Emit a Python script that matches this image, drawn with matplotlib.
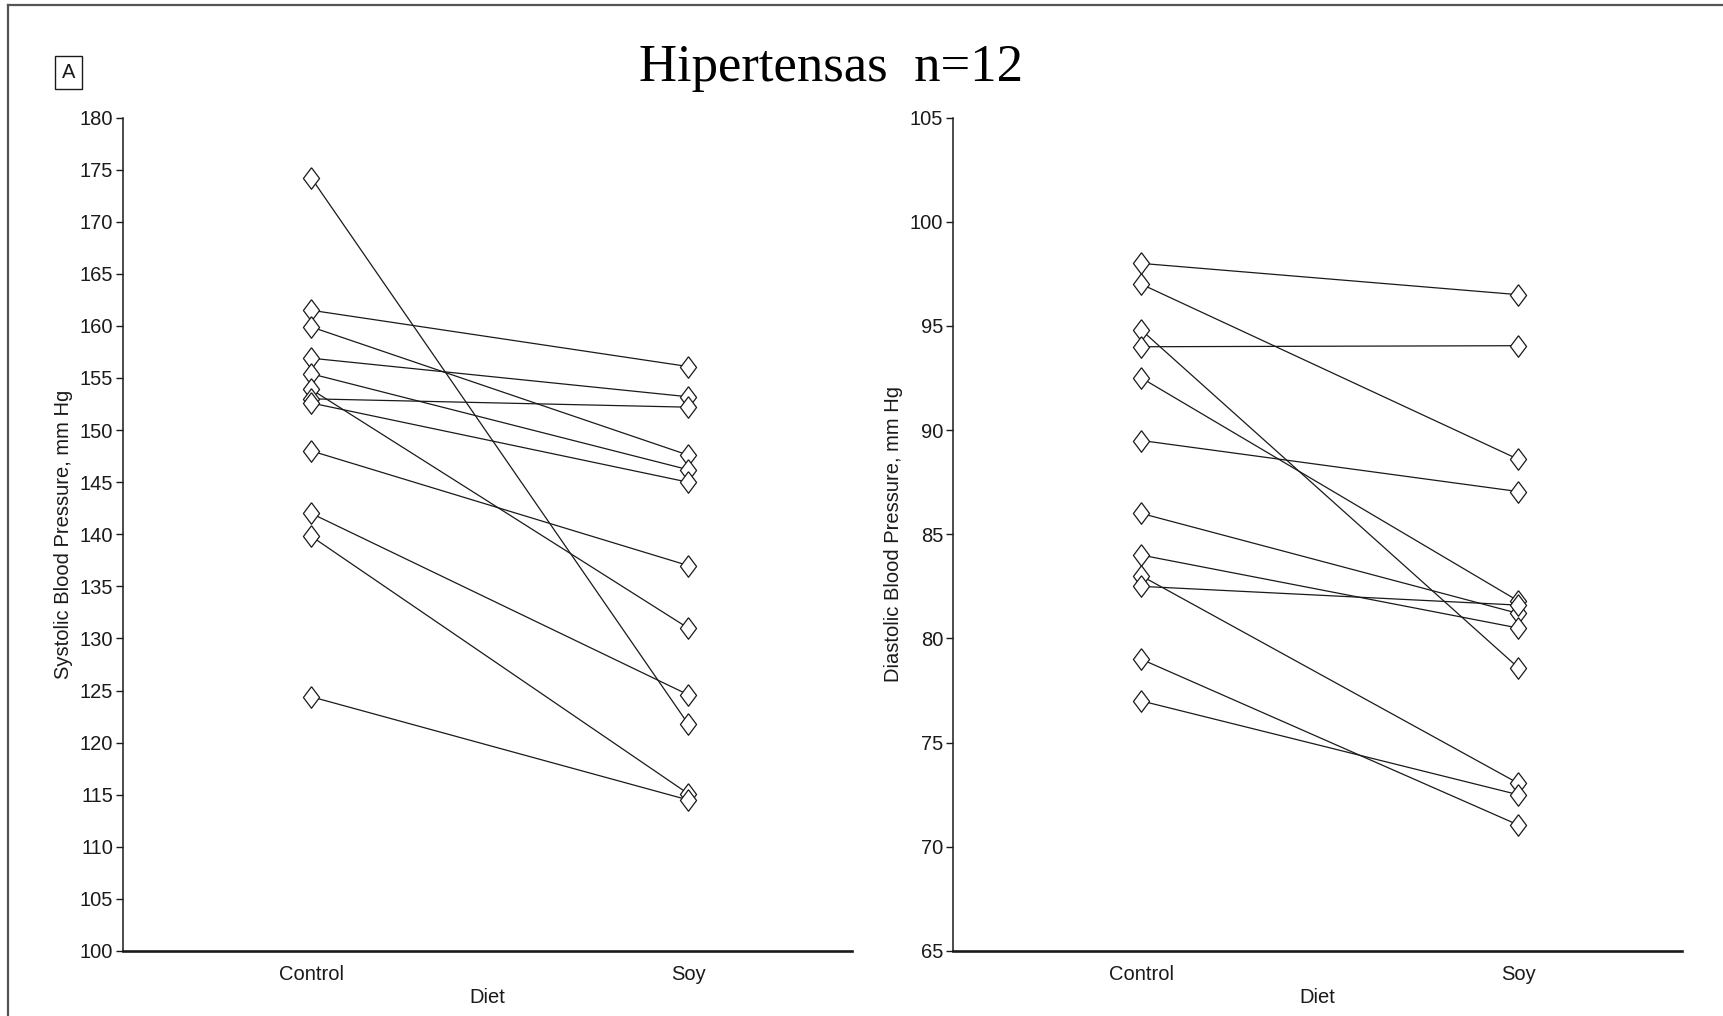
import matplotlib
matplotlib.use("Agg")
import matplotlib.pyplot as plt
from matplotlib.lines import Line2D

# ---- DATA ----
diet = ["Control", "Soy"]

sys_control = [174.2, 161.5, 159.9, 156.9, 155.4, 153.9, 153.0, 152.6, 148.0, 142.0, 139.8, 124.4]
sys_soy = [121.8, 156.1, 147.6, 153.2, 146.2, 131.0, 152.2, 145.0, 137.0, 124.6, 115.1, 114.5]

dia_control = [98.0, 97.0, 94.8, 94.0, 92.5, 89.5, 86.0, 84.0, 83.0, 82.5, 79.0, 77.0]
dia_soy = [96.5, 88.6, 78.6, 94.05, 81.8, 87.05, 81.2, 80.5, 73.05, 81.6, 71.05, 72.5]

sys_ticks = list(range(100, 181, 5))
dia_ticks = list(range(65, 106, 5))

title = "Hipertensas  n=12"
panel_tag = "A"

# ---- STYLE ----
plt.rcParams["font.family"] = ["Liberation Sans", "DejaVu Sans"]
diamond = [(0, 1), (0.75, 0), (0, -1), (-0.75, 0), (0, 1)]
ink = "#1a1a1a"
fs = 14.5

fig = plt.figure(figsize=(17.24, 10.16), dpi=100)
ax1 = fig.add_axes([0.0713, 0.064, 0.4229, 0.8203])
ax2 = fig.add_axes([0.5528, 0.064, 0.4229, 0.8203])


def draw_panel(ax, ctrl, soy, ticks, ylabel):
    for c, s in zip(ctrl, soy):
        ax.plot([0, 1], [c, s], color=ink, lw=0.9, zorder=2)
    for c, s in zip(ctrl, soy):
        ax.plot([0, 1], [c, s], ls="none", marker=diamond, ms=15.5,
                mfc="white", mec=ink, mew=0.9, zorder=3)
    ax.set_xlim(-0.5, 1.435)
    ax.set_ylim(ticks[0], ticks[-1])
    ax.set_yticks(ticks)
    ax.set_xticks([0, 1])
    ax.set_xticklabels(diet)
    for sp in ["top", "right"]:
        ax.spines[sp].set_visible(False)
    ax.spines["left"].set_linewidth(1.1)
    ax.spines["bottom"].set_linewidth(1.9)
    ax.spines["left"].set_color(ink)
    ax.spines["bottom"].set_color(ink)
    ax.tick_params(axis="y", direction="out", length=5, width=1.0, pad=2,
                   labelsize=fs, colors=ink)
    ax.tick_params(axis="x", length=0, pad=10, labelsize=fs, colors=ink)
    ax.set_xlabel("Diet", fontsize=fs, color=ink, labelpad=3)
    ax.set_ylabel(ylabel, fontsize=fs, color=ink)
    ax.yaxis.set_label_coords(-0.069, 0.5)


draw_panel(ax1, sys_control, sys_soy, sys_ticks, "Systolic Blood Pressure, mm Hg")
draw_panel(ax2, dia_control, dia_soy, dia_ticks, "Diastolic Blood Pressure, mm Hg")

fig.text(0.482, 0.933, title, ha="center", va="center", fontsize=38,
         family=["Liberation Serif", "DejaVu Serif"], color="black")

fig.text(0.0397, 0.929, panel_tag, ha="center", va="center", fontsize=fs,
         color=ink, bbox=dict(boxstyle="square,pad=0.35", fc="white", ec=ink, lw=1.0))

# frame lines at the left and top edges of the scan
fig.add_artist(Line2D([0.0046, 0.0046], [0, 0.995], transform=fig.transFigure,
                      color="#555555", lw=1.6))
fig.add_artist(Line2D([0.0046, 1.0], [0.995, 0.995], transform=fig.transFigure,
                      color="#555555", lw=1.6))

fig.savefig("out.png", dpi=100, facecolor="white")
